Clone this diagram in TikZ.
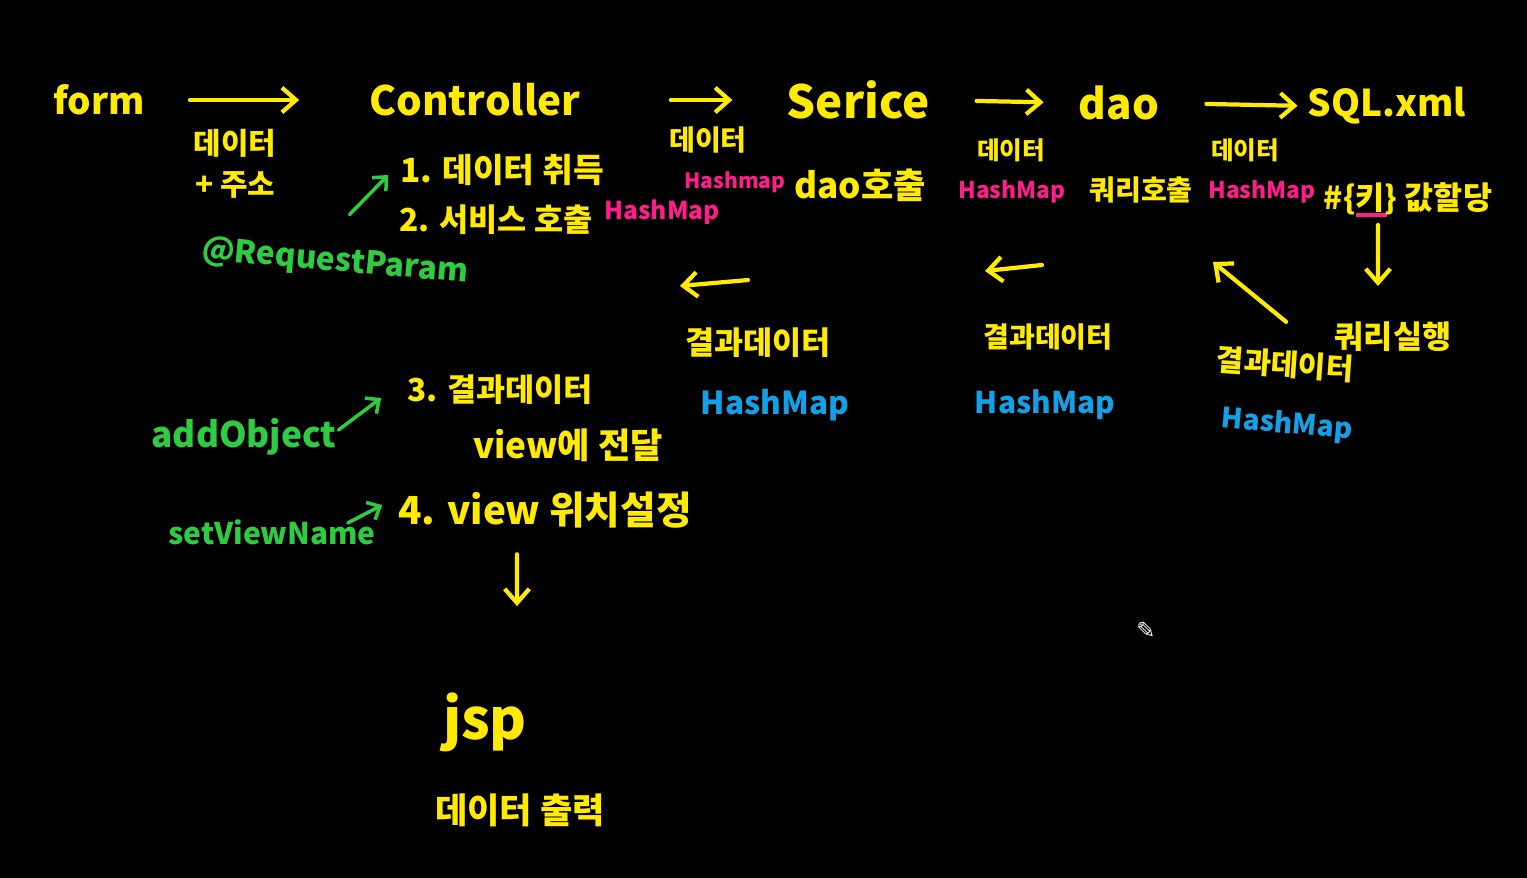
\documentclass[tikz,border=0pt]{standalone}
\usepackage{fontspec}
\setmainfont{Noto Sans CJK KR}
\newfontfamily\pencilfont{DejaVu Sans}
\definecolor{hwyellow}{RGB}{255,234,0}
\definecolor{hwgreen}{RGB}{46,204,64}
\definecolor{hwpink}{RGB}{255,28,140}
\definecolor{hwblue}{RGB}{18,160,230}
\usetikzlibrary{arrows.meta,positioning}
\newcommand{\hwsize}[1]{\fontsize{#1}{#1}\selectfont}
\newcommand{\pinkul}[1]{\rlap{\textcolor{hwpink}{\rule[-0.22em]{1em}{0.12em}}}#1}

\begin{document}
\begin{tikzpicture}[x=0.02cm, y=-0.02cm,
        flow/.style={text=hwyellow, font=\bfseries\hwsize{24}, inner sep=0pt},
        memo/.style={text=hwyellow, font=\bfseries\hwsize{17}, inner sep=1pt, align=center},
        anno/.style={text=hwgreen, font=\bfseries\hwsize{19}, inner sep=1pt},
        pmap/.style={text=hwpink, font=\bfseries\hwsize{13}, inner sep=1pt},
        bmap/.style={text=hwblue, font=\bfseries\hwsize{18}, inner sep=1pt},
        arr/.style={-{Straight Barb[length=8pt,width=14pt]}, line width=2.4pt, hwyellow,
                    line cap=round, line join=round},
        garr/.style={arr, -{Straight Barb[length=6pt,width=11pt]}, hwgreen, line width=2pt}
      ]
        \fill[black] (0,0) rectangle (1527,878);
        \useasboundingbox (0,0) rectangle (1527,878);

        % main flow
        \node[flow, font=\bfseries\hwsize{21}, minimum width=1.64cm] (form) at (99,100) {form};
        \node[flow, font=\bfseries\hwsize{23}, minimum width=4cm]    (ctrl) at (475,100) {Controller};
        \node[flow, font=\bfseries\hwsize{26}, minimum width=2.66cm] (svc)  at (858,100) {Serice};
        \node[flow, minimum width=1.56cm]                            (dao)  at (1119,103) {dao};
        \node[flow, font=\bfseries\hwsize{21}, minimum width=3cm]    (sql)  at (1387,106) {SQL.xml};

        \draw[arr, shorten <=0.9cm,  shorten >=1.4cm]  (form.east) -- (ctrl.west);
        \draw[arr, shorten <=1.8cm,  shorten >=1.08cm] (ctrl.east) -- (svc.west);
        \draw[arr, shorten <=0.94cm, shorten >=0.7cm]  (svc.east)  -- (dao.west);
        \draw[arr, shorten <=0.94cm, shorten >=0.2cm]  (dao.east)  -- (sql.west);

        % what goes along each arrow
        \node[memo] (m1) at (235,164) {데이터\\[6pt]+ 주소};
        \node[memo, font=\bfseries\hwsize{16}] (d2) at (708,140) {데이터};
        \node[pmap, font=\bfseries\hwsize{12}] (h2) at (735,182) {Hashmap};
        \node[pmap, font=\bfseries\hwsize{14}] (h2b) at (662,212) {HashMap};
        \node[memo, font=\bfseries\hwsize{14}] (d3) at (1011,150) {데이터};
        \node[pmap] (h3) at (1012,192) {HashMap};
        \node[memo, font=\bfseries\hwsize{14}] (d4) at (1245,150) {데이터};
        \node[pmap] (h4) at (1262,192) {HashMap};

        % what each part does
        \node[memo, font=\bfseries\hwsize{19}] (s1)   at (502,170)  {1. 데이터 취득};
        \node[memo, font=\bfseries\hwsize{18}] (s2)   at (496,220)  {2. 서비스 호출};
        \node[memo, font=\bfseries\hwsize{20}] (sv2)  at (860,185)  {dao호출};
        \node[memo, font=\bfseries\hwsize{16}] (dao2) at (1141,190) {쿼리호출};
        \node[memo, font=\bfseries\hwsize{18}] (sql2) at (1408,200) {\#\{\pinkul{키}\} 값할당};
        \node[memo, font=\bfseries\hwsize{18}] (qx)   at (1393,337) {쿼리실행};

        \draw[arr, shorten <=0.12cm, shorten >=0.68cm] ([xshift=-0.6cm]sql2.south) -- ([xshift=-0.3cm]qx.north);

        % results going back
        \node[memo, rotate=-4] (r4) at (1285,364) {결과데이터};
        \node[bmap, font=\bfseries\hwsize{16}, rotate=-5] (b4) at (1287,425) {HashMap};
        \node[memo, font=\bfseries\hwsize{16}] (r3) at (1048,337) {결과데이터};
        \node[bmap, font=\bfseries\hwsize{17}] (b3) at (1045,405) {HashMap};
        \node[memo, font=\bfseries\hwsize{18}] (r2) at (758,343) {결과데이터};
        \node[bmap] (b2) at (775,405) {HashMap};

        \coordinate (back1a) at (748,280);
        \coordinate (back1b) at (680,286);
        \coordinate (back2a) at (1042,265);
        \coordinate (back2b) at (985,271);
        \coordinate (back3)  at (1213,262);
        \draw[arr] (back1a) -- (back1b);
        \draw[arr] (back2a) -- (back2b);
        \draw[arr] ([shift={(0,-26)}]r4.north) -- (back3);

        % controller steps 3 and 4
        \node[memo, font=\bfseries\hwsize{18}] (s3)  at (500,390) {3. 결과데이터};
        \node[memo, font=\bfseries\hwsize{20}] (s3b) at (568,445) {view에 전달};
        \node[memo, font=\bfseries\hwsize{22}] (s4)  at (545,510) {4. view 위치설정};

        \node[anno, font=\bfseries\hwsize{18}, rotate=-5] (rp) at (335,262) {@RequestParam};
        \node[anno, font=\bfseries\hwsize{20}] (ao)  at (244,437) {addObject};
        \node[anno, font=\bfseries\hwsize{17}] (svn) at (272,532) {setViewName};

        \draw[garr] ([shift={(13,-30)}]rp.north) -- ([shift={(-10,5)}]s1.west);
        \draw[garr] ([shift={(0,-7)}]ao.east)    -- ([shift={(-24,8)}]s3.west);
        \draw[garr] ([shift={(-30,-9)}]svn.east) -- ([shift={(-14,-5)}]s4.west);

        % view
        \node[flow, font=\bfseries\hwsize{32}] (jsp) at (485,722) {jsp};
        \node[memo, font=\bfseries\hwsize{20}] (out) at (520,810) {데이터 출력};

        \draw[arr, shorten <=0.48cm, shorten >=1.72cm] ([xshift=-0.56cm]s4.south) -- ([xshift=0.64cm]jsp.north);

        \node[text=white, font=\pencilfont\hwsize{13}] (pen) at (1146,630) {✎};
      \end{tikzpicture}
\end{document}
